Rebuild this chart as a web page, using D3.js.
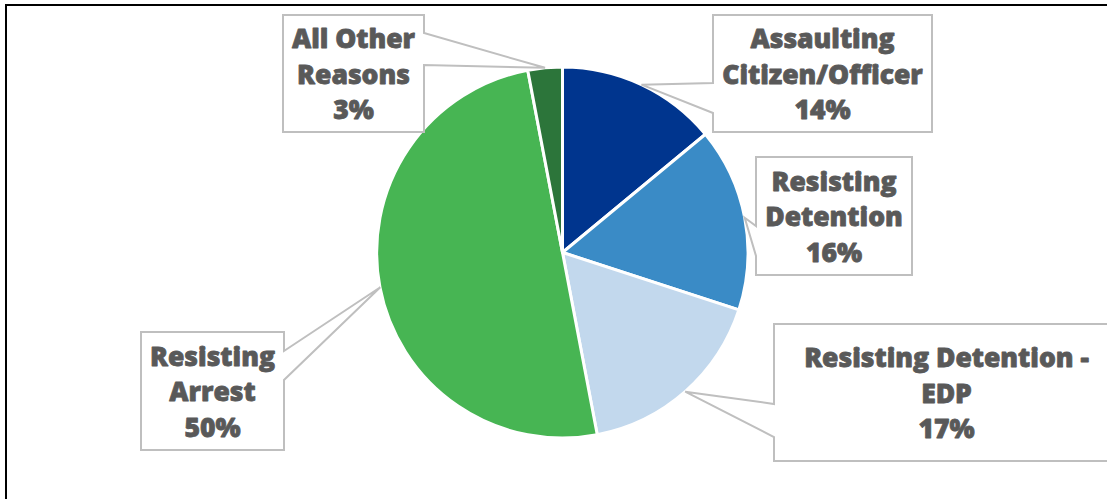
<!DOCTYPE html>
<html>
<head>
<meta charset="utf-8">
<script src="https://cdn.jsdelivr.net/npm/d3@7"></script>
<style>
  body { margin: 0; background: #fff; }
  svg { display: block; }
  .lbl { font-family: "Open Sans", sans-serif; font-weight: 800; fill: #595959; stroke: #595959; stroke-width: 0.8px; stroke-linejoin: round; font-size: 26.5px; }
</style>
</head>
<body>
<svg id="chart" width="1107" height="499"></svg>
<script>
// data
var categories = ["Assaulting Citizen/Officer", "Resisting Detention", "Resisting Detention - EDP", "Resisting Arrest", "All Other Reasons"];
var values = [14, 16, 17, 50, 3];
var labelLines = [["Assaulting", "Citizen/Officer"], ["Resisting", "Detention"], ["Resisting Detention -", "EDP"], ["Resisting", "Arrest"], ["All Other", "Reasons"]];
var colors = ["#00358E", "#3A8BC6", "#C2D8ED", "#47B553", "#2C753A"];

// callout layout: box x,y,w,h, side the pointer leaves from, and the two points on that side
var callouts = [
    { x: 713, y: 15, w: 219, h: 117, side: "left", a: 83, b: 113 },
    { x: 756, y: 157, w: 156, h: 118, side: "left", a: 226, b: 256 },
    { x: 774, y: 324, w: 345, h: 137, side: "left", a: 404, b: 437 },
    { x: 141, y: 332, w: 143, h: 118, side: "right", a: 351, b: 380 },
    { x: 283, y: 15, w: 141, h: 117, side: "right", a: 33, b: 65 }
];

var width = 1107, height = 499,
    cx = 562.5, cy = 252.5, r = 185.5;

var svg = d3.select("#chart");

// frame (only top and left edges show)
svg.append("rect")
    .attr("x", 6).attr("y", 5)
    .attr("width", width + 20).attr("height", height + 20)
    .attr("fill", "none")
    .attr("stroke", "#000")
    .attr("stroke-width", 2);

var pie = d3.pie().sort(null).value(function (d) { return d; });
var arcs = pie(values);

var arc = d3.arc().innerRadius(0).outerRadius(r);
var edge = d3.arc().innerRadius(r).outerRadius(r);

var g = svg.append("g").attr("transform", "translate(" + cx + "," + cy + ")");

g.selectAll("path.slice")
    .data(arcs)
    .enter()
    .append("path")
    .attr("class", "slice")
    .attr("d", arc)
    .attr("fill", function (d, i) { return colors[i]; })
    .attr("stroke", "#fff")
    .attr("stroke-width", 3)
    .attr("stroke-linejoin", "round");

// callout boxes with pointer wedge
function calloutPath(c, tip) {
    var x0 = c.x, x1 = c.x + c.w, y0 = c.y, y1 = c.y + c.h;
    var p = d3.path();
    if (c.side == "left") {
        p.moveTo(x0, y0);
        p.lineTo(x1, y0); p.lineTo(x1, y1); p.lineTo(x0, y1);
        p.lineTo(x0, c.b); p.lineTo(tip[0], tip[1]); p.lineTo(x0, c.a);
        p.closePath();
    } else {
        p.moveTo(x0, y0);
        p.lineTo(x1, y0); p.lineTo(x1, c.a); p.lineTo(tip[0], tip[1]); p.lineTo(x1, c.b);
        p.lineTo(x1, y1); p.lineTo(x0, y1);
        p.closePath();
    }
    return p.toString();
}

var labels = svg.selectAll("g.callout")
    .data(arcs)
    .enter()
    .append("g")
    .attr("class", "callout");

labels.append("path")
    .attr("d", function (d, i) {
        var t = edge.centroid(d);
        return calloutPath(callouts[i], [t[0] + cx, t[1] + cy]);
    })
    .attr("fill", "#fff")
    .attr("stroke", "#BFBFBF")
    .attr("stroke-width", 2);

var total = d3.sum(values);
var lineH = 35.5;

labels.append("text")
    .attr("class", "lbl")
    .attr("text-anchor", "middle")
    .attr("x", function (d, i) { return callouts[i].x + callouts[i].w / 2; })
    .attr("y", function (d, i) { return callouts[i].y + callouts[i].h / 2 - lineH + 10; })
    .each(function (d, i) {
        var t = d3.select(this);
        var lines = labelLines[i].concat([Math.round(d.data / total * 100) + "%"]);
        lines.forEach(function (s, k) {
            t.append("tspan")
                .attr("x", callouts[i].x + callouts[i].w / 2)
                .attr("dy", k ? lineH : 0)
                .text(s);
        });
    });
</script>
</body>
</html>
